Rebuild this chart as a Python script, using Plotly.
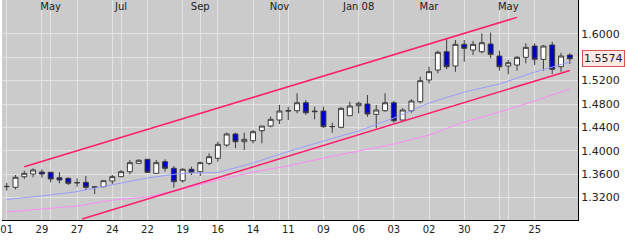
import pandas as pd
import plotly.graph_objects as go

# ---------------- data ----------------
week_start = "2007-04-01"
n_weeks = 65
dates = pd.date_range(week_start, periods=n_weeks, freq="7D")

opens = [1.3385, 1.3375, 1.3556, 1.3602, 1.3636, 1.3631, 1.3539, 1.3528, 1.3450, 1.3460,
         1.3378, 1.3385, 1.3482, 1.3556, 1.3641, 1.3785, 1.3854, 1.3614, 1.3813, 1.3700,
         1.3487, 1.3683, 1.3641, 1.3785, 1.3871, 1.4098, 1.4287, 1.4155, 1.4172, 1.4343,
         1.4423, 1.4526, 1.4680, 1.4685, 1.4822, 1.4680, 1.4680, 1.4411, 1.4401, 1.4600,
         1.4771, 1.4800, 1.4624, 1.4685, 1.4822, 1.4526, 1.4685, 1.4839, 1.5211, 1.5382,
         1.5695, 1.5450, 1.5821, 1.5724, 1.5695, 1.5827, 1.5621, 1.5450, 1.5467, 1.5599,
         1.5792, 1.5565, 1.5810, 1.5438, 1.5638]
highs = [1.3450, 1.3585, 1.3659, 1.3700, 1.3683, 1.3641, 1.3631, 1.3546, 1.3528, 1.3568,
         1.3382, 1.3499, 1.3585, 1.3671, 1.3842, 1.3854, 1.3860, 1.3842, 1.3854, 1.3739,
         1.3700, 1.3727, 1.3813, 1.3956, 1.4155, 1.4309, 1.4309, 1.4309, 1.4355, 1.4423,
         1.4583, 1.4783, 1.4754, 1.4983, 1.4868, 1.4754, 1.4754, 1.4480, 1.4743, 1.4839,
         1.4839, 1.4954, 1.4783, 1.4983, 1.4856, 1.4726, 1.4880, 1.5267, 1.5438, 1.5712,
         1.5910, 1.5895, 1.5895, 1.5880, 1.6010, 1.6020, 1.5712, 1.5553, 1.5621, 1.5839,
         1.5839, 1.5810, 1.5866, 1.5678, 1.5667]
lows = [1.3320, 1.3340, 1.3517, 1.3546, 1.3539, 1.3460, 1.3443, 1.3414, 1.3385, 1.3328,
        1.3260, 1.3375, 1.3431, 1.3546, 1.3597, 1.3785, 1.3626, 1.3614, 1.3641, 1.3368,
        1.3453, 1.3585, 1.3568, 1.3756, 1.3813, 1.4069, 1.4042, 1.4013, 1.4126, 1.4126,
        1.4401, 1.4458, 1.4526, 1.4641, 1.4612, 1.4538, 1.4394, 1.4309, 1.4384, 1.4595,
        1.4641, 1.4583, 1.4384, 1.4668, 1.4480, 1.4514, 1.4651, 1.4812, 1.5154, 1.5325,
        1.5394, 1.5353, 1.5524, 1.5638, 1.5667, 1.5582, 1.5370, 1.5308, 1.5370, 1.5496,
        1.5467, 1.5370, 1.5313, 1.5353, 1.5484]
closes = [1.3390, 1.3546, 1.3614, 1.3671, 1.3602, 1.3517, 1.3499, 1.3443, 1.3455, 1.3375,
          1.3381, 1.3487, 1.3556, 1.3641, 1.3796, 1.3837, 1.3631, 1.3796, 1.3700, 1.3471,
          1.3683, 1.3631, 1.3796, 1.3898, 1.4110, 1.4287, 1.4155, 1.4196, 1.4326, 1.4423,
          1.4538, 1.4680, 1.4685, 1.4822, 1.4651, 1.4670, 1.4411, 1.4415, 1.4726, 1.4766,
          1.4812, 1.4629, 1.4697, 1.4822, 1.4514, 1.4697, 1.4851, 1.5199, 1.5353, 1.5685,
          1.5438, 1.5821, 1.5753, 1.5821, 1.5849, 1.5650, 1.5438, 1.5507, 1.5599, 1.5770,
          1.5565, 1.5792, 1.5394, 1.5621, 1.5574]

# moving-average lines, read every four weeks
ma_dates = ["2007-04-01", "2007-04-29", "2007-05-27", "2007-06-24", "2007-07-22",
            "2007-08-19", "2007-09-16", "2007-10-14", "2007-11-11", "2007-12-09",
            "2008-01-06", "2008-02-03", "2008-03-02", "2008-03-30", "2008-04-27",
            "2008-05-25", "2008-06-22"]
ma_blue = [1.3166, 1.3226, 1.3301, 1.3421, 1.3534, 1.3616, 1.3628, 1.3790, 1.3987,
           1.4167, 1.4338, 1.4560, 1.4817, 1.5005, 1.5142, 1.5347, 1.5519]
ma_pink = [1.2952, 1.3000, 1.3054, 1.3157, 1.3209, 1.3345, 1.3499, 1.3636, 1.3739,
           1.3876, 1.3996, 1.4115, 1.4269, 1.4492, 1.4663, 1.4851, 1.5057]

# trend channel
upper_dates = ["2007-04-15", "2008-05-11"]
upper_prices = [1.3727, 1.6283]
lower_dates = ["2007-05-31", "2008-06-22"]
lower_prices = [1.2832, 1.5375]

# axis ticks
bottom_ticks = pd.date_range("2007-04-01", periods=16, freq="28D")
bottom_text = [d.strftime("%d") for d in bottom_ticks]
month_ticks = ["2007-05-06", "2007-07-01", "2007-09-02", "2007-11-04",
               "2008-01-06", "2008-03-02", "2008-05-04"]
month_text = ["May", "Jul", "Sep", "Nov", "Jan 08", "Mar", "May"]
price_ticks = [1.32, 1.36, 1.40, 1.44, 1.48, 1.52, 1.56, 1.60, 1.64]
last_price = closes[-1]

# ---------------- figure ----------------
FONT = "DejaVu Sans"
GRID = "#e3e3e3"
fig = go.Figure()

fig.add_trace(go.Scatter(x=ma_dates, y=ma_pink, mode="lines",
                         line=dict(color="#ff8cf5", width=1), hoverinfo="skip"))
fig.add_trace(go.Scatter(x=ma_dates, y=ma_blue, mode="lines",
                         line=dict(color="#9c9cff", width=1), hoverinfo="skip"))
fig.add_trace(go.Scatter(x=upper_dates, y=upper_prices, mode="lines",
                         line=dict(color="#ff1f70", width=1.5), hoverinfo="skip"))
fig.add_trace(go.Scatter(x=lower_dates, y=lower_prices, mode="lines",
                         line=dict(color="#ff1f70", width=1.5), hoverinfo="skip"))

fig.add_trace(go.Candlestick(
    x=dates, open=opens, high=highs, low=lows, close=closes,
    increasing=dict(fillcolor="#ffffff", line=dict(color="#3c3c3c", width=1)),
    decreasing=dict(fillcolor="#0000c8", line=dict(color="#3c3c3c", width=1)),
    whiskerwidth=0,
))

# dummy trace to carry the top month axis
fig.add_trace(go.Scatter(x=[month_ticks[0]], y=[None], xaxis="x2", mode="lines",
                         hoverinfo="skip", showlegend=False))

fig.update_layout(
    width=625, height=240,
    margin=dict(l=0, r=47, t=0, b=20),
    paper_bgcolor="#ffffff",
    plot_bgcolor="#cbcbcb",
    showlegend=False,
    boxgap=0.3, boxgroupgap=0.2,
    font=dict(family=FONT, size=10, color="#222222"),
    xaxis=dict(
        type="date",
        range=["2007-03-28 06:30", "2008-06-28 12:00"],
        tickmode="array", tickvals=bottom_ticks, ticktext=bottom_text,
        ticklabeloverflow="allow",
        showgrid=True, gridcolor=GRID, gridwidth=1,
        showline=True, linecolor="#000000", linewidth=1,
        ticks="", zeroline=False,
        rangeslider=dict(visible=False),
        tickfont=dict(family=FONT, size=10, color="#222222"),
    ),
    xaxis2=dict(
        type="date", overlaying="x", side="top", matches="x",
        tickmode="array", tickvals=month_ticks, ticktext=month_text,
        ticklabelposition="inside",
        showgrid=True, gridcolor=GRID, gridwidth=1,
        showline=False, ticks="", zeroline=False,
        tickfont=dict(family=FONT, size=10, color="#222222"),
    ),
    yaxis=dict(
        side="right",
        range=[1.2815, 1.6580],
        tickmode="array", tickvals=price_ticks,
        ticktext=["" if abs(v - 1.56) < 1e-9 else f"{v:.4f}" for v in price_ticks],
        showgrid=True, gridcolor=GRID, gridwidth=1,
        showline=True, linecolor="#000000", linewidth=1,
        ticks="", zeroline=False,
        tickfont=dict(family=FONT, size=11, color="#222222"),
    ),
)

fig.add_annotation(
    xref="paper", x=1, xanchor="left", xshift=4,
    yref="y", y=last_price, yanchor="middle",
    text=f"{last_price:.4f}", showarrow=False,
    font=dict(family=FONT, size=11, color="#222222"),
    bgcolor="#fde8e8", bordercolor="#d9534f", borderwidth=1, borderpad=1,
)

fig.write_html("out.html")
